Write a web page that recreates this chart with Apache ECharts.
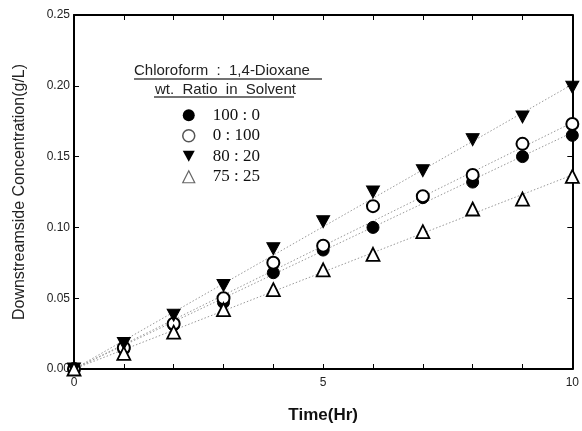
<!DOCTYPE html>
<html>
<head>
<meta charset="utf-8">
<script src="https://cdn.jsdelivr.net/npm/echarts@6/dist/echarts.min.js"></script>
<style>
  html, body { margin: 0; padding: 0; background: #fff; }
  #chart { width: 582px; height: 431px; }
</style>
</head>
<body>
<div id="chart"></div>
<script>
// time in hours
var hours = [0, 1, 2, 3, 4, 5, 6, 7, 8, 9, 10]
// chloroform : 1,4-dioxane ratios
var ratioNames = ['100 : 0', '0 : 100', '80 : 20', '75 : 25']
// downstream concentration (g/L)
var conc100_0 = [0, 0.014, 0.031, 0.047, 0.068, 0.084, 0.100, 0.121, 0.132, 0.150, 0.165]
var conc0_100 = [0, 0.015, 0.032, 0.050, 0.075, 0.087, 0.115, 0.122, 0.137, 0.159, 0.173]
var conc80_20 = [0, 0.018, 0.038, 0.059, 0.085, 0.104, 0.125, 0.140, 0.162, 0.178, 0.199]
var conc75_25 = [0, 0.011, 0.026, 0.042, 0.056, 0.070, 0.081, 0.097, 0.113, 0.120, 0.136]
// dotted fit lines: value at t=0 and t=10
var fitX = [0, 10]
var fit100_0 = [0, 0.167]
var fit0_100 = [0, 0.174]
var fit80_20 = [0, 0.201]
var fit75_25 = [0, 0.137]
// axis tick labels
var xTickLabels = [0, 5, 10]

var downTriangle = 'path://M0,0L10,0L5,9Z'

function pairs(xs, ys) {
  return xs.map(function(x, i) { return [x, ys[i]] })
}

var chart = echarts.init(document.getElementById('chart'))

var fitLine = function(ys) {
  return {
    type: 'line',
    data: pairs(fitX, ys),
    symbol: 'none',
    silent: true,
    z: 1,
    lineStyle: { color: '#999', width: 1, type: [1.5, 2] }
  }
}

var pointSeries = [
  { name: ratioNames[0], data: pairs(hours, conc100_0), symbol: 'circle', symbolSize: 12,
    itemStyle: { color: '#000', borderColor: '#000', borderWidth: 1 } },
  { name: ratioNames[1], data: pairs(hours, conc0_100), symbol: 'circle', symbolSize: 12,
    itemStyle: { color: '#fff', borderColor: '#000', borderWidth: 2 } },
  { name: ratioNames[2], data: pairs(hours, conc80_20), symbol: downTriangle, symbolSize: [13, 12],
    itemStyle: { color: '#000', borderColor: '#000', borderWidth: 1 } },
  { name: ratioNames[3], data: pairs(hours, conc75_25), symbol: 'triangle', symbolSize: 13,
    itemStyle: { color: '#fff', borderColor: '#000', borderWidth: 1.8 } }
].map(function(s, i) {
  s.type = 'scatter'
  s.z = 3 + i
  s.itemStyle.opacity = 1
  return s
})

var axisFont = { fontFamily: 'Liberation Sans', fontSize: 12, color: '#222' }

chart.setOption({
  backgroundColor: '#fff',
  animation: false,
  grid: { left: 74, right: 6, top: 15, bottom: 62 },
  legend: {
    data: [
      { name: ratioNames[0], icon: 'circle', itemStyle: { color: '#000', borderWidth: 0 } },
      { name: ratioNames[1], icon: 'circle', itemStyle: { color: '#fff', borderColor: '#555', borderWidth: 1.5 } },
      { name: ratioNames[2], icon: downTriangle, itemStyle: { color: '#000', borderWidth: 0 } },
      { name: ratioNames[3], icon: 'triangle', itemStyle: { color: '#fff', borderColor: '#666', borderWidth: 1.2 } }
    ],
    orient: 'vertical',
    left: 177,
    top: 101,
    itemWidth: 12,
    itemHeight: 12,
    itemGap: 2,
    selectedMode: false,
    textStyle: { fontFamily: 'Liberation Serif', fontSize: 17, lineHeight: 18.5, color: '#111', padding: [0, 0, 0, 13] }
  },
  graphic: [
    { type: 'text', left: 134, top: 63, style: { text: 'Chloroform  :  1,4-Dioxane', font: '15px "Liberation Sans"', fill: '#222' } },
    { type: 'line', shape: { x1: 134, y1: 79, x2: 322, y2: 79 }, style: { stroke: '#444', lineWidth: 1.5 } },
    { type: 'text', left: 155, top: 82, style: { text: 'wt.  Ratio  in  Solvent', font: '15px "Liberation Sans"', fill: '#222' } },
    { type: 'line', shape: { x1: 154, y1: 97, x2: 294, y2: 97 }, style: { stroke: '#444', lineWidth: 1.5 } }
  ],
  xAxis: [
    {
      type: 'value', min: 0, max: 10, interval: 1,
      name: 'Time(Hr)', nameLocation: 'middle', nameGap: 38,
      nameTextStyle: { fontFamily: 'Liberation Sans', fontSize: 17, fontWeight: 'bold', color: '#111' },
      axisLine: { onZero: false, lineStyle: { color: '#000', width: 2 } },
      axisTick: { inside: true, length: 5, lineStyle: { color: '#000', width: 1 } },
      axisLabel: {
        ...axisFont, margin: 8,
        formatter: function(v) { return xTickLabels.indexOf(v) >= 0 ? String(v) : '' }
      },
      splitLine: { show: false }
    },
    {
      type: 'value', min: 0, max: 10, interval: 1, position: 'top',
      axisLine: { onZero: false, lineStyle: { color: '#000', width: 2 } },
      axisTick: { inside: true, length: 5, lineStyle: { color: '#000', width: 1 } },
      axisLabel: { show: false },
      splitLine: { show: false }
    }
  ],
  yAxis: [
    {
      type: 'value', min: 0, max: 0.25, interval: 0.05,
      name: 'Downstreamside Concentration(g/L)', nameLocation: 'middle', nameGap: 46,
      nameTextStyle: { fontFamily: 'Liberation Sans', fontSize: 16, color: '#222' },
      axisLine: { onZero: false, lineStyle: { color: '#000', width: 2 } },
      axisTick: { inside: true, length: 5, lineStyle: { color: '#000', width: 1 } },
      axisLabel: { ...axisFont, margin: 4, formatter: function(v) { return v.toFixed(2) } },
      splitLine: { show: false }
    },
    {
      type: 'value', min: 0, max: 0.25, interval: 0.05, position: 'right',
      axisLine: { onZero: false, lineStyle: { color: '#000', width: 2 } },
      axisTick: { inside: true, length: 5, lineStyle: { color: '#000', width: 1 } },
      axisLabel: { show: false },
      splitLine: { show: false }
    }
  ],
  series: [
    fitLine(fit100_0),
    fitLine(fit0_100),
    fitLine(fit80_20),
    fitLine(fit75_25)
  ].concat(pointSeries)
})
</script>
</body>
</html>
